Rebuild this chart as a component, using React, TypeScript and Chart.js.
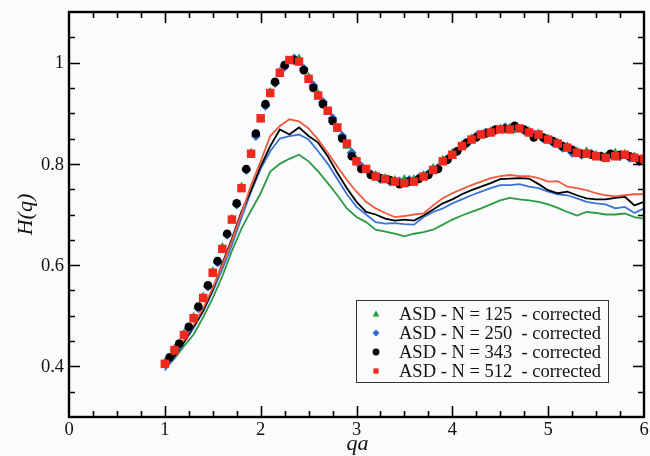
import React, { useEffect, useRef } from "react";
import { Chart, registerables } from "chart.js";

Chart.register(...registerables);

// ---------- data ----------
const X_TICKS = [0, 1, 2, 3, 4, 5, 6];
const X_TICK_LABELS = ["0", "1", "2", "3", "4", "5", "6"];
const Y_TICKS = [0.4, 0.6, 0.8, 1.0];
const Y_TICK_LABELS = ["0.4", "0.6", "0.8", "1"];
const X_RANGE = [0, 6];
const Y_RANGE = [0.3, 1.1];
const X_MINOR_STEP = 0.25;
const Y_MINOR_STEP = 0.05;

const X_TITLE = "qa";
const Y_TITLE = "H(q)";

const LEGEND_LABELS = [
  "ASD - N = 125  - corrected",
  "ASD - N = 250  - corrected",
  "ASD - N = 343  - corrected",
  "ASD - N = 512  - corrected",
];

// q*a grids
const QA_A = [1, 1.1, 1.2, 1.3, 1.4, 1.5, 1.6, 1.7, 1.8, 1.9, 2, 2.1, 2.2, 2.3, 2.4, 2.5, 2.6, 2.7, 2.8, 2.9, 3, 3.1, 3.2, 3.3, 3.4, 3.5, 3.6, 3.7, 3.8, 3.9, 4, 4.1, 4.2, 4.3, 4.4, 4.5, 4.6, 4.7, 4.8, 4.9, 5, 5.1, 5.2, 5.3, 5.4, 5.5, 5.6, 5.7, 5.8, 5.9, 6];
const QA_B = [1.05, 1.15, 1.25, 1.35, 1.45, 1.55, 1.65, 1.75, 1.85, 1.95, 2.05, 2.15, 2.25, 2.35, 2.45, 2.55, 2.65, 2.75, 2.85, 2.95, 3.05, 3.15, 3.25, 3.35, 3.45, 3.55, 3.65, 3.75, 3.85, 3.95, 4.05, 4.15, 4.25, 4.35, 4.45, 4.55, 4.65, 4.75, 4.85, 4.95, 5.05, 5.15, 5.25, 5.35, 5.45, 5.55, 5.65, 5.75, 5.85, 5.95];

// corrected (markers)
const H_125_CORR = [0.408, 0.435, 0.465, 0.498, 0.538, 0.588, 0.636, 0.692, 0.755, 0.822, 0.888, 0.942, 0.982, 1.002, 1.008, 0.972, 0.938, 0.902, 0.868, 0.835, 0.808, 0.788, 0.778, 0.772, 0.768, 0.770, 0.770, 0.778, 0.792, 0.808, 0.822, 0.838, 0.850, 0.858, 0.865, 0.870, 0.872, 0.868, 0.865, 0.860, 0.850, 0.842, 0.835, 0.825, 0.825, 0.818, 0.815, 0.822, 0.820, 0.815, 0.812];
const H_250_CORR = [0.415, 0.442, 0.475, 0.515, 0.558, 0.605, 0.660, 0.720, 0.788, 0.855, 0.915, 0.960, 0.992, 1.008, 0.988, 0.955, 0.922, 0.890, 0.855, 0.822, 0.795, 0.780, 0.770, 0.765, 0.765, 0.768, 0.772, 0.780, 0.792, 0.810, 0.825, 0.840, 0.855, 0.862, 0.866, 0.872, 0.870, 0.866, 0.858, 0.850, 0.842, 0.832, 0.822, 0.818, 0.820, 0.815, 0.818, 0.815, 0.812, 0.805];
const H_343_CORR = [0.418, 0.445, 0.478, 0.518, 0.560, 0.608, 0.662, 0.722, 0.790, 0.860, 0.918, 0.962, 0.995, 1.005, 0.985, 0.950, 0.918, 0.885, 0.850, 0.815, 0.790, 0.778, 0.772, 0.768, 0.760, 0.765, 0.770, 0.778, 0.790, 0.808, 0.825, 0.842, 0.852, 0.860, 0.868, 0.870, 0.875, 0.868, 0.852, 0.852, 0.845, 0.835, 0.828, 0.820, 0.818, 0.815, 0.820, 0.818, 0.815, 0.808];
const H_512_CORR = [0.405, 0.432, 0.462, 0.495, 0.535, 0.585, 0.632, 0.690, 0.752, 0.820, 0.890, 0.940, 0.980, 1.005, 1.002, 0.968, 0.935, 0.905, 0.872, 0.840, 0.805, 0.790, 0.775, 0.770, 0.765, 0.762, 0.765, 0.775, 0.788, 0.805, 0.818, 0.835, 0.848, 0.858, 0.862, 0.868, 0.868, 0.870, 0.862, 0.858, 0.848, 0.840, 0.832, 0.822, 0.820, 0.815, 0.812, 0.815, 0.818, 0.812, 0.810];

// uncorrected (lines)
const H_125_RAW = [0.395, 0.415, 0.440, 0.463, 0.497, 0.535, 0.578, 0.628, 0.672, 0.708, 0.742, 0.785, 0.800, 0.810, 0.818, 0.805, 0.785, 0.762, 0.738, 0.712, 0.695, 0.685, 0.670, 0.666, 0.662, 0.657, 0.662, 0.665, 0.670, 0.680, 0.690, 0.698, 0.705, 0.712, 0.720, 0.728, 0.733, 0.730, 0.728, 0.725, 0.720, 0.713, 0.705, 0.698, 0.705, 0.703, 0.700, 0.700, 0.702, 0.695, 0.692];
const H_250_RAW = [0.392, 0.418, 0.447, 0.476, 0.508, 0.548, 0.592, 0.640, 0.693, 0.745, 0.790, 0.825, 0.850, 0.855, 0.858, 0.848, 0.825, 0.800, 0.770, 0.740, 0.715, 0.700, 0.685, 0.682, 0.683, 0.681, 0.680, 0.695, 0.705, 0.712, 0.722, 0.730, 0.738, 0.745, 0.752, 0.758, 0.758, 0.760, 0.755, 0.752, 0.745, 0.740, 0.738, 0.732, 0.725, 0.722, 0.720, 0.712, 0.715, 0.703, 0.712];
const H_343_RAW = [0.398, 0.420, 0.448, 0.478, 0.510, 0.552, 0.603, 0.652, 0.706, 0.748, 0.795, 0.835, 0.868, 0.858, 0.872, 0.855, 0.842, 0.815, 0.782, 0.752, 0.725, 0.705, 0.700, 0.692, 0.688, 0.690, 0.688, 0.698, 0.710, 0.722, 0.730, 0.740, 0.748, 0.755, 0.762, 0.770, 0.771, 0.772, 0.771, 0.760, 0.748, 0.742, 0.745, 0.738, 0.732, 0.730, 0.730, 0.733, 0.735, 0.718, 0.725];
const H_512_RAW = [0.400, 0.425, 0.452, 0.482, 0.515, 0.555, 0.600, 0.648, 0.702, 0.758, 0.805, 0.855, 0.875, 0.888, 0.884, 0.870, 0.848, 0.822, 0.795, 0.768, 0.745, 0.725, 0.712, 0.703, 0.695, 0.697, 0.700, 0.702, 0.718, 0.732, 0.742, 0.750, 0.758, 0.765, 0.772, 0.776, 0.778, 0.776, 0.776, 0.772, 0.765, 0.766, 0.755, 0.752, 0.748, 0.742, 0.738, 0.736, 0.738, 0.740, 0.740];

// ---------- styles ----------
const BG = "#fafbfd";
const GREEN = "#22a03a";
const BLUE = "#2f66cc";
const BLACK = "#000000";
const RED = "#f0281e";
const GREEN_LINE = "#2c9a40";
const BLUE_LINE = "#3a74d6";
const RED_LINE = "#f25a3c";
const SERIF = '"Liberation Serif", "Times New Roman", serif';

const toPts = (xs: number[], ys: number[]) => ys.map((v, i) => ({ x: xs[i], y: v }));

function drawMarker(ctx: CanvasRenderingContext2D, kind: string, x: number, y: number, color: string) {
  ctx.fillStyle = color;
  ctx.beginPath();
  if (kind === "triangle") {
    ctx.moveTo(x, y - 3.6);
    ctx.lineTo(x + 3.4, y + 2.6);
    ctx.lineTo(x - 3.4, y + 2.6);
    ctx.closePath();
  } else if (kind === "diamond") {
    ctx.moveTo(x, y - 3.4);
    ctx.lineTo(x + 3.4, y);
    ctx.lineTo(x, y + 3.4);
    ctx.lineTo(x - 3.4, y);
    ctx.closePath();
  } else if (kind === "circle") {
    ctx.arc(x, y, 3.4, 0, Math.PI * 2);
  } else {
    ctx.rect(x - 2.6, y - 2.6, 5.2, 5.2);
  }
  ctx.fill();
}

const framePlugin = {
  id: "framePlugin",
  beforeDraw(chart: any) {
    const { ctx, width, height } = chart;
    ctx.save();
    ctx.fillStyle = BG;
    ctx.fillRect(0, 0, width, height);
    ctx.restore();
  },
  afterDraw(chart: any) {
    const { ctx, chartArea: a } = chart;
    const xs = chart.scales.x;
    const ys = chart.scales.y;
    ctx.save();
    ctx.strokeStyle = "#000";
    ctx.lineWidth = 1.6;
    const nx = Math.round((X_RANGE[1] - X_RANGE[0]) / X_MINOR_STEP);
    for (let i = 1; i < nx; i++) {
      const v = X_RANGE[0] + i * X_MINOR_STEP;
      const major = X_TICKS.some((t) => Math.abs(t - v) < 1e-6);
      const len = major ? 11 : 6;
      const px = Math.round(xs.getPixelForValue(v)) + 0.5;
      ctx.beginPath();
      ctx.moveTo(px, a.bottom);
      ctx.lineTo(px, a.bottom - len);
      ctx.moveTo(px, a.top);
      ctx.lineTo(px, a.top + len);
      ctx.stroke();
    }
    const ny = Math.round((Y_RANGE[1] - Y_RANGE[0]) / Y_MINOR_STEP);
    for (let i = 1; i < ny; i++) {
      const v = Y_RANGE[0] + i * Y_MINOR_STEP;
      const major = Y_TICKS.some((t) => Math.abs(t - v) < 1e-6);
      const len = major ? 11 : 6;
      const py = Math.round(ys.getPixelForValue(v)) + 0.5;
      ctx.beginPath();
      ctx.moveTo(a.left, py);
      ctx.lineTo(a.left + len, py);
      ctx.moveTo(a.right, py);
      ctx.lineTo(a.right - len, py);
      ctx.stroke();
    }
    ctx.lineWidth = 2.4;
    ctx.strokeRect(a.left, a.top, a.right - a.left, a.bottom - a.top);

    ctx.fillStyle = "#111";
    ctx.font = `18.5px ${SERIF}`;
    ctx.textAlign = "center";
    ctx.textBaseline = "middle";
    X_TICKS.forEach((t, i) => {
      ctx.fillText(X_TICK_LABELS[i], xs.getPixelForValue(t), a.bottom + 13);
    });
    ctx.textAlign = "right";
    Y_TICKS.forEach((t, i) => {
      ctx.fillText(Y_TICK_LABELS[i], a.left - 5, ys.getPixelForValue(t) + 1);
    });

    ctx.font = `italic 22px ${SERIF}`;
    ctx.textAlign = "center";
    ctx.textBaseline = "middle";
    ctx.fillText(X_TITLE, (a.left + a.right) / 2 + 1, a.bottom + 27);
    ctx.save();
    ctx.translate(26, (a.top + a.bottom) / 2);
    ctx.rotate(-Math.PI / 2);
    ctx.fillText(Y_TITLE, 0, 0);
    ctx.restore();

    const lw = 252;
    const lh = 82;
    const lx = a.right - 36 - lw;
    const ly = a.bottom - 35 - lh;
    ctx.fillStyle = BG;
    ctx.fillRect(lx, ly, lw, lh);
    ctx.strokeStyle = "#333";
    ctx.lineWidth = 1;
    ctx.strokeRect(lx + 0.5, ly + 0.5, lw, lh);
    const kinds = ["triangle", "diamond", "circle", "square"];
    const cols = [GREEN, BLUE, BLACK, RED];
    ctx.font = `18.5px ${SERIF}`;
    ctx.textAlign = "left";
    ctx.textBaseline = "middle";
    LEGEND_LABELS.forEach((lab, i) => {
      const cy = ly + 14 + i * 19;
      drawMarker(ctx, kinds[i], lx + 20, cy, cols[i]);
      ctx.fillStyle = "#111";
      ctx.fillText(lab, lx + 43, cy + 1);
    });
    ctx.restore();
  },
};

export default function App() {
  const ref = useRef<HTMLCanvasElement | null>(null);
  useEffect(() => {
    if (!ref.current) return;
    const lineDs = (label: string, data: number[], color: string, order: number) => ({
      label,
      data: toPts(QA_A, data),
      borderColor: color,
      backgroundColor: color,
      borderWidth: 1.8,
      pointRadius: 0,
      showLine: true,
      fill: false,
      tension: 0,
      order,
    });
    const markDs = (label: string, xs: number[], data: number[], color: string, style: string, radius: number, order: number) => ({
      label,
      data: toPts(xs, data),
      borderColor: color,
      backgroundColor: color,
      pointStyle: style,
      pointRadius: radius,
      pointBorderWidth: 0,
      borderWidth: 0,
      showLine: false,
      order,
    });
    const chart = new Chart(ref.current, {
      type: "scatter",
      data: {
        datasets: [
          markDs(LEGEND_LABELS[3], QA_A, H_512_CORR, RED, "rect", 6, 0),
          markDs(LEGEND_LABELS[2], QA_B, H_343_CORR, BLACK, "circle", 4.3, 1),
          markDs(LEGEND_LABELS[1], QA_B, H_250_CORR, BLUE, "rectRot", 5, 2),
          markDs(LEGEND_LABELS[0], QA_A, H_125_CORR, GREEN, "triangle", 5, 3),
          lineDs("N = 512", H_512_RAW, RED_LINE, 4),
          lineDs("N = 343", H_343_RAW, BLACK, 5),
          lineDs("N = 250", H_250_RAW, BLUE_LINE, 6),
          lineDs("N = 125", H_125_RAW, GREEN_LINE, 7),
        ] as any,
      },
      options: {
        animation: false,
        responsive: false,
        devicePixelRatio: 1,
        layout: { padding: { left: 69, right: 5, top: 12, bottom: 39 } },
        plugins: { legend: { display: false }, tooltip: { enabled: false } },
        scales: {
          x: { type: "linear", min: X_RANGE[0], max: X_RANGE[1], display: false },
          y: { type: "linear", min: Y_RANGE[0], max: Y_RANGE[1], display: false },
        },
      },
      plugins: [framePlugin],
    });
    return () => chart.destroy();
  }, []);
  return (
    <div style={{ position: "fixed", left: 0, top: 0, width: 650, height: 456, background: BG }}>
      <canvas ref={ref} width={650} height={456} style={{ width: 650, height: 456 }} />
    </div>
  );
}
